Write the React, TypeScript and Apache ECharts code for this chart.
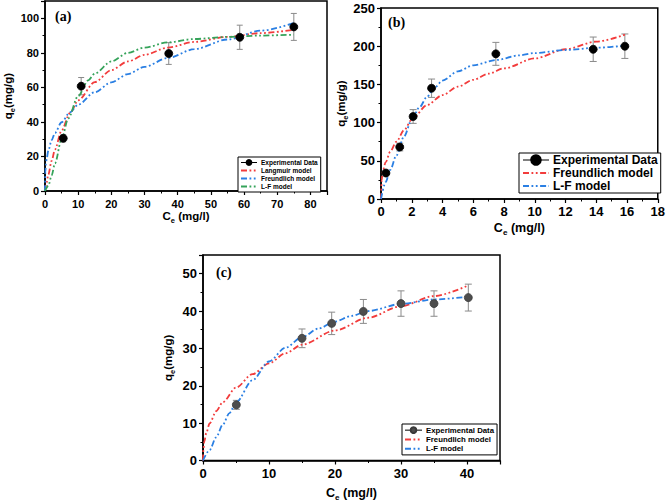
import React, { useEffect, useRef } from "react";
import * as echarts from "echarts";

// ---------- Panel (a) ----------
const aExpX = [5.5, 10.9, 37.3, 58.7, 75.0];
const aExpY = [30.5, 60.7, 79.6, 89.0, 95.0];
const aExpErr = [2, 5, 6.3, 7, 7.8];
const aLangX = [0, 0.5, 1, 2, 3, 5, 7.5, 10, 15, 20, 25, 30, 37, 45, 55, 65, 75];
const aLangY = [0, 5, 9.5, 17.5, 24, 35, 45, 52.5, 63, 70, 75, 78.8, 83, 86.3, 89.2, 91.4, 93.3];
const aFreX = [0, 0.1, 0.3, 0.5, 1, 2, 3, 5, 7.5, 10, 15, 20, 25, 30, 37, 45, 55, 65, 75];
const aFreY = [0, 10.9, 15.7, 18.6, 23.4, 29.4, 33.6, 39.8, 45.5, 50, 57.2, 62.9, 67.7, 71.9, 77, 82.1, 87.7, 92.8, 97.2];
const aLfX = [0, 1, 2, 3, 5, 7, 10, 13, 15, 20, 25, 30, 37, 45, 55, 65, 75];
const aLfY = [0, 3, 9, 16, 30, 42, 55, 64, 68, 75, 80, 83, 86, 88, 89.2, 90, 90.5];

// ---------- Panel (b) ----------
const bExpX = [0.32, 1.22, 2.09, 3.29, 7.47, 13.8, 15.86];
const bExpY = [34, 68, 108, 145, 190, 196, 200];
const bExpErr = [3, 5, 9, 12, 15, 16, 16];
const bFreX = [0, 0.05, 0.1, 0.3, 0.6, 1, 1.5, 2, 3, 4, 5, 6, 7, 8, 10, 12, 14, 16];
const bFreY = [0, 25, 35, 48, 62, 75, 90, 104, 123, 136, 147, 156, 164, 171, 184, 196, 206, 216];
const bLfX = [0, 0.3, 0.6, 1, 1.5, 2, 2.5, 3, 3.5, 4, 5, 6, 7.5, 9, 10, 12, 14, 16];
const bLfY = [0, 22, 38, 57, 82, 104, 120, 134, 146, 155, 167, 175, 182, 188, 191, 195, 198, 201];

// ---------- Panel (c) ----------
const cExpX = [5.05, 15.0, 19.5, 24.3, 30.0, 35.0, 40.2];
const cExpY = [14.9, 32.7, 36.7, 39.9, 42.0, 42.0, 43.6];
const cExpErr = [1.2, 2.5, 3, 3.2, 3.4, 3.4, 3.6];
const cFreX = [0, 0.05, 0.2, 0.5, 1, 2, 3, 5, 7.5, 10, 12.5, 15, 20, 25, 30, 35, 40];
const cFreY = [0, 2.8, 5.1, 7.4, 9.9, 13.2, 15.6, 19.5, 23.1, 26, 28.7, 31, 34.8, 38.2, 41.3, 44, 46.7];
const cLfX = [0, 1, 2, 3, 4, 5, 7.5, 10, 12.5, 15, 17.5, 20, 22.5, 25, 30, 35, 40];
const cLfY = [0, 2.8, 6.2, 9.6, 12.7, 15.5, 21.5, 26.5, 30.2, 33, 35.3, 37.2, 38.7, 40, 41.9, 43.1, 43.8];

const FONT = "'Liberation Sans', Arial, sans-serif";
const SERIF = "'Liberation Serif', 'Times New Roman', serif";
const RED = "#f23c3c";
const BLUE = "#2a7fe3";
const GREEN = "#35a35a";
const DASH = [6, 2.5, 1.8, 2.5, 1.8, 2.5];

const zip = (xs: number[], ys: number[]) => xs.map((x, i) => [x, ys[i]]);

function richStyles(size: number) {
  return {
    b: { fontSize: size, fontWeight: "bold", fontFamily: FONT, color: "#000", lineHeight: size + 4 },
    s: { fontSize: size * 0.65, fontWeight: "bold", fontFamily: FONT, color: "#000", lineHeight: size * 0.65, verticalAlign: "bottom" },
  };
}
function axisName(text: string, size: number) {
  return { name: `{b|C}{s|e}{b| ${text}}`, nameTextStyle: { rich: richStyles(size) } };
}
function yName(size: number) {
  return { name: `{b|q}{s|e}{b|(mg/g)}`, nameTextStyle: { rich: richStyles(size) } };
}

function makeAxis(grid: number, min: number, max: number, interval: number, labelStep: number, fontSize: number, margin: number) {
  return {
    type: "value",
    gridIndex: grid,
    min,
    max,
    interval,
    axisLine: { show: true, onZero: false, lineStyle: { color: "#000", width: 1.5 } },
    axisTick: { show: true, inside: false, length: 4, lineStyle: { color: "#000", width: 1.2 } },
    minorTick: { show: true, splitNumber: 2, length: 2.5, lineStyle: { color: "#000", width: 1 } },
    splitLine: { show: false },
    minorSplitLine: { show: false },
    axisLabel: {
      fontSize,
      fontWeight: "bold",
      fontFamily: FONT,
      color: "#000",
      margin,
      formatter: (v: number) => (Math.abs(v % labelStep) < 1e-9 ? String(v) : ""),
    },
    nameLocation: "middle",
  };
}

function errSeries(xi: number, xs: number[], ys: number[], es: number[], cap: number) {
  return {
    type: "custom",
    xAxisIndex: xi,
    yAxisIndex: xi,
    z: 1,
    silent: true,
    encode: { x: 0, y: [1, 2] },
    data: xs.map((x, i) => [x, ys[i] - es[i], ys[i] + es[i]]),
    renderItem: (params: any, api: any) => {
      const x = api.value(0);
      const lo = api.coord([x, api.value(1)]);
      const hi = api.coord([x, api.value(2)]);
      const st = { stroke: "#8a8a8a", lineWidth: 1 };
      return {
        type: "group",
        children: [
          { type: "line", shape: { x1: lo[0], y1: lo[1], x2: hi[0], y2: hi[1] }, style: st },
          { type: "line", shape: { x1: hi[0] - cap, y1: hi[1], x2: hi[0] + cap, y2: hi[1] }, style: st },
          { type: "line", shape: { x1: lo[0] - cap, y1: lo[1], x2: lo[0] + cap, y2: lo[1] }, style: st },
        ],
      };
    },
  };
}

function modelSeries(name: string, xi: number, xs: number[], ys: number[], color: string) {
  return {
    type: "line",
    name,
    xAxisIndex: xi,
    yAxisIndex: xi,
    data: zip(xs, ys),
    symbol: "none",
    smooth: 0.3,
    smoothMonotone: "x",
    z: 2,
    lineStyle: { color, width: 1.8, type: DASH },
    itemStyle: { color },
  };
}

function expSeries(name: string, xi: number, xs: number[], ys: number[], color: string, size: number) {
  return {
    type: "line",
    name,
    xAxisIndex: xi,
    yAxisIndex: xi,
    data: zip(xs, ys),
    symbol: "circle",
    symbolSize: size,
    showSymbol: true,
    z: 5,
    lineStyle: { width: 0, color: "#000" },
    itemStyle: { color, borderColor: color === "#000" ? "#000" : "#3a3a3a", borderWidth: 0.8 },
  };
}

function legendBox(prefix: string, left: number, top: number, fontSize: number, itemWidth: number, itemHeight: number, lineHeight: number, pad: number[], names: string[]) {
  return {
    show: true,
    orient: "vertical",
    left,
    top,
    selectedMode: false,
    backgroundColor: "#fff",
    borderColor: "#000",
    borderWidth: 1,
    padding: pad,
    itemGap: 1,
    itemWidth,
    itemHeight,
    formatter: (n: string) => n.slice(2),
    textStyle: { fontSize, fontWeight: "bold", fontFamily: FONT, color: "#000", lineHeight, padding: [0, 0, 0, -1] },
    data: names.map((n, i) =>
      i === 0
        ? { name: prefix + n, lineStyle: { width: 1, color: "#000", opacity: 1 } }
        : { name: prefix + n, itemStyle: { opacity: 0 } }
    ),
  };
}

export default function App() {
  const ref = useRef<HTMLDivElement>(null);
  useEffect(() => {
    if (!ref.current) return;
    const chart = echarts.init(ref.current, undefined, { renderer: "svg" });
    const gridBase = { show: true, borderColor: "#000", borderWidth: 1.5, backgroundColor: "transparent", containLabel: false };
    const option: any = {
      animation: false,
      backgroundColor: "#fff",
      grid: [
        { ...gridBase, left: 45, top: 1, width: 282, height: 190 },
        { ...gridBase, left: 381, top: 8, width: 281, height: 191 },
        { ...gridBase, left: 203, top: 255, width: 297, height: 206 },
      ],
      xAxis: [
        { ...makeAxis(0, 0, 85, 10, 10, 11, 7), ...axisName("(mg/l)", 11.5), nameGap: 16 },
        { ...makeAxis(1, 0, 18, 2, 2, 13, 6), ...axisName("(mg/l)", 12.5), nameGap: 21 },
        { ...makeAxis(2, 0, 45, 10, 10, 13, 6), ...axisName("(mg/l)", 12.5), nameGap: 24 },
      ],
      yAxis: [
        { ...makeAxis(0, 0, 110, 20, 20, 11, 6), ...yName(11.5), nameGap: 29 },
        { ...makeAxis(1, 0, 250, 50, 50, 13, 6), ...yName(11.5), nameGap: 32 },
        { ...makeAxis(2, 0, 55, 10, 10, 13, 6), ...yName(11.5), nameGap: 27 },
      ],
      legend: [
        legendBox("a:", 238, 157, 6.5, 16, 6, 6.6, [2, 3, 2, 2], ["Experimental Data", "Langmuir model", "Freundlich model", "L-F model"]),
        legendBox("b:", 519, 153, 12, 26, 12, 12, [1, 3, 1, 3], ["Experimental Data", "Freundlich model", "L-F model"]),
        legendBox("c:", 402, 424, 7.8, 17, 7, 8.3, [2, 3, 2, 2], ["Experimental Data", "Freundlich model", "L-F model"]),
      ],
      graphic: [
        { type: "text", left: 55, top: 9, style: { text: "(a)", font: `bold 14px ${SERIF}`, fill: "#000" } },
        { type: "text", left: 388, top: 15, style: { text: "(b)", font: `bold 14px ${SERIF}`, fill: "#000" } },
        { type: "text", left: 216, top: 265, style: { text: "(c)", font: `bold 14px ${SERIF}`, fill: "#000" } },
      ],
      series: [
        errSeries(0, aExpX, aExpY, aExpErr, 3),
        modelSeries("a:Langmuir model", 0, aLangX, aLangY, RED),
        modelSeries("a:Freundlich model", 0, aFreX, aFreY, BLUE),
        modelSeries("a:L-F model", 0, aLfX, aLfY, GREEN),
        expSeries("a:Experimental Data", 0, aExpX, aExpY, "#000", 8),

        errSeries(1, bExpX, bExpY, bExpErr, 3.5),
        modelSeries("b:Freundlich model", 1, bFreX, bFreY, RED),
        modelSeries("b:L-F model", 1, bLfX, bLfY, BLUE),
        expSeries("b:Experimental Data", 1, bExpX, bExpY, "#000", 8),

        errSeries(2, cExpX, cExpY, cExpErr, 3.5),
        modelSeries("c:Freundlich model", 2, cFreX, cFreY, RED),
        modelSeries("c:L-F model", 2, cLfX, cLfY, BLUE),
        expSeries("c:Experimental Data", 2, cExpX, cExpY, "#4d4d4d", 8),
      ],
    };
    chart.setOption(option);
    return () => chart.dispose();
  }, []);
  return (
    <div
      ref={ref}
      style={{ position: "fixed", left: 0, top: 0, width: 668, height: 502, background: "#fff" }}
    />
  );
}
